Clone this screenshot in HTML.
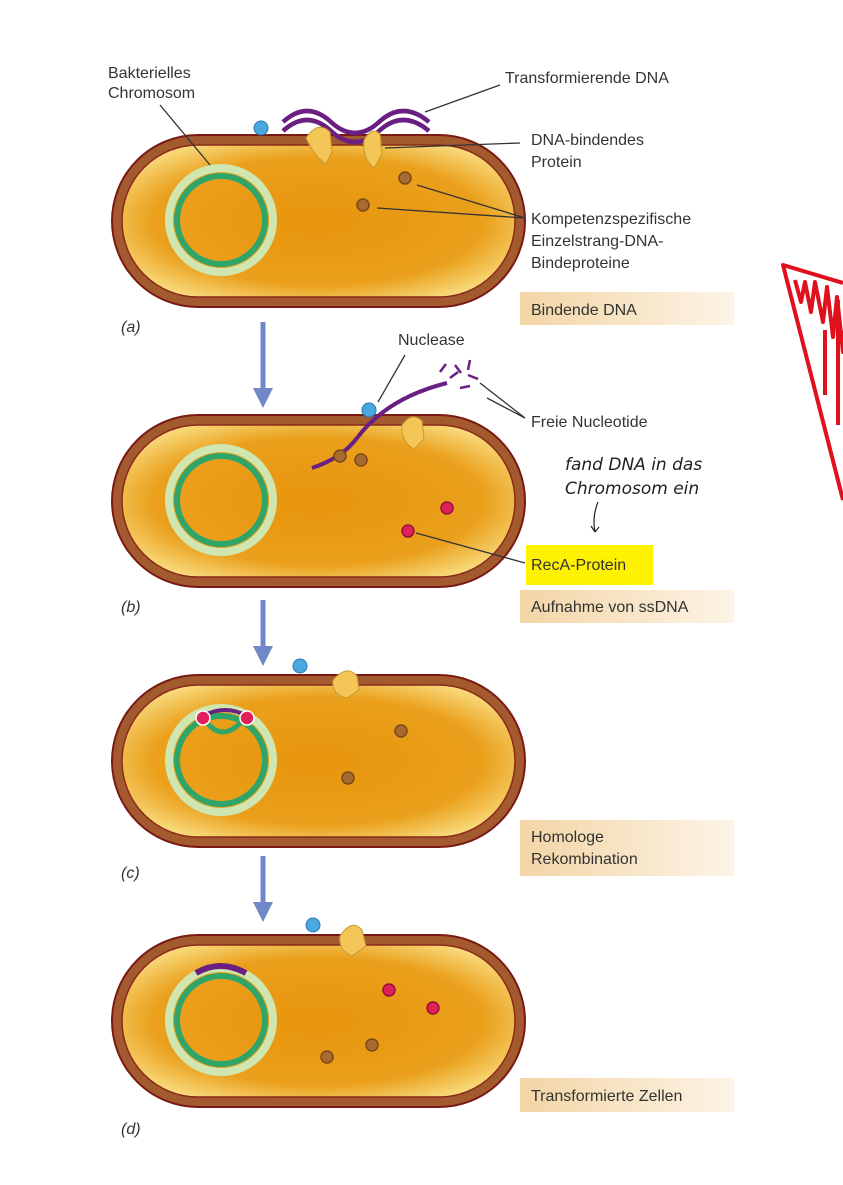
<!DOCTYPE html>
<html><head><meta charset="utf-8"><style>
html,body{margin:0;padding:0;background:#fff;}
svg{display:block;font-family:"Liberation Sans",sans-serif;}
</style></head><body>
<svg width="843" height="1185" viewBox="0 0 843 1185" xmlns="http://www.w3.org/2000/svg">
<defs>
<radialGradient id="cyto" cx="0.5" cy="0.5" r="0.6">
<stop offset="0" stop-color="#e8940c"/><stop offset="0.7" stop-color="#eaa01c"/><stop offset="1" stop-color="#f9dc80"/>
</radialGradient>
<linearGradient id="tan" x1="0" x2="1"><stop offset="0" stop-color="#f3d5a6"/><stop offset="1" stop-color="#fdf4e6"/></linearGradient>
<marker id="ah" markerWidth="4" markerHeight="4" refX="2" refY="2" orient="auto"><path d="M0,0 L4,2 L0,4z" fill="#7188c8"/></marker>
</defs>
<g id="cells"></g>

<g>
<circle cx="261" cy="128" r="7" fill="#4aa8e0" stroke="#2a78b0"/>
<path d="M283,122 q24,-22 48,0 t48,0 q24,-22 50,0" fill="none" stroke="#6a1f82" stroke-width="4.5"/>
<path d="M283,131 q24,-22 48,0 t48,0 q24,-22 50,0" fill="none" stroke="#6a1f82" stroke-width="4.5"/>
<path d="M306,138 q12,-18 24,-6 l2,20 l-6,12 q-12,-8 -20,-26z" fill="#f4c658" stroke="#c89830"/>
<path d="M364,140 q8,-14 16,-6 l2,20 l-8,14 q-12,-10 -10,-28z" fill="#f4c658" stroke="#c89830"/>
<circle cx="405" cy="178" r="6" fill="#a86a30" stroke="#7a4818" stroke-width="1.5"/>
<circle cx="363" cy="205" r="6" fill="#a86a30" stroke="#7a4818" stroke-width="1.5"/>
<g stroke="#333" stroke-width="1.3" fill="none">
<line x1="160" y1="105" x2="210" y2="165"/>
<line x1="425" y1="112" x2="500" y2="85"/>
<line x1="385" y1="148" x2="520" y2="143"/>
<line x1="417" y1="185" x2="525" y2="218"/>
<line x1="377" y1="208" x2="525" y2="218"/>
</g>
</g>
<g>
<path d="M312,468 q30,-10 45,-30 q30,-40 90,-55" fill="none" stroke="#6a1f82" stroke-width="4"/>
<path d="M450,378 l8,-6 M460,388 l10,-2 M455,365 l6,8 M468,375 l10,4 M470,360 l-2,10 M440,372 l6,-8" stroke="#6a1f82" stroke-width="2.5"/>
<circle cx="369" cy="410" r="7" fill="#4aa8e0" stroke="#2a78b0"/>
<path d="M402,425 q10,-14 20,-4 l2,18 l-10,10 q-14,-8 -12,-24z" fill="#f4c658" stroke="#c89830"/>
<circle cx="340" cy="456" r="6" fill="#a86a30" stroke="#7a4818" stroke-width="1.5"/>
<circle cx="361" cy="460" r="6" fill="#a86a30" stroke="#7a4818" stroke-width="1.5"/>
<circle cx="447" cy="508" r="6" fill="#e0205a" stroke="#901040" stroke-width="1.5"/>
<circle cx="408" cy="531" r="6" fill="#e0205a" stroke="#901040" stroke-width="1.5"/>
<g stroke="#333" stroke-width="1.3" fill="none">
<line x1="378" y1="402" x2="405" y2="355"/>
<line x1="480" y1="383" x2="525" y2="418"/>
<line x1="487" y1="398" x2="525" y2="418"/>
<line x1="416" y1="533" x2="525" y2="563"/>
</g>
</g>
<g>
<circle cx="300" cy="666" r="7" fill="#4aa8e0" stroke="#2a78b0"/>
<path d="M333,680 q14,-16 24,-4 l2,14 l-12,8 q-16,-4 -14,-18z" fill="#f4c658" stroke="#c89830"/>
<path d="M203,716 q22,-12 44,0" fill="none" stroke="#6a1f82" stroke-width="4"/>
<path d="M205,720 q17,24 38,0" fill="none" stroke="#2fa56a" stroke-width="5"/>
<circle cx="203" cy="718" r="7" fill="#e0205a" stroke="#fff" stroke-width="1.5"/>
<circle cx="247" cy="718" r="7" fill="#e0205a" stroke="#fff" stroke-width="1.5"/>
<circle cx="401" cy="731" r="6" fill="#a86a30" stroke="#7a4818" stroke-width="1.5"/>
<circle cx="348" cy="778" r="6" fill="#a86a30" stroke="#7a4818" stroke-width="1.5"/>
</g>
<g>
<circle cx="313" cy="925" r="7" fill="#4aa8e0" stroke="#2a78b0"/>
<path d="M340,936 q12,-18 22,-6 l4,16 l-14,10 q-14,-6 -12,-20z" fill="#f4c658" stroke="#c89830"/>
<path d="M196,973 q24,-14 50,0" fill="none" stroke="#6a1f82" stroke-width="6"/>
<circle cx="389" cy="990" r="6" fill="#e0205a" stroke="#901040" stroke-width="1.5"/>
<circle cx="433" cy="1008" r="6" fill="#e0205a" stroke="#901040" stroke-width="1.5"/>
<circle cx="327" cy="1057" r="6" fill="#a86a30" stroke="#7a4818" stroke-width="1.5"/>
<circle cx="372" cy="1045" r="6" fill="#a86a30" stroke="#7a4818" stroke-width="1.5"/>
</g>

<g stroke="#7188c8" stroke-width="5" marker-end="url(#ah)">
<line x1="263" y1="322" x2="263" y2="398"/>
<line x1="263" y1="600" x2="263" y2="656"/>
<line x1="263" y1="856" x2="263" y2="912"/>
</g>

<rect x="520" y="292" width="214" height="33" fill="url(#tan)"/>
<rect x="520" y="590" width="214" height="33" fill="url(#tan)"/>
<rect x="520" y="820" width="214" height="56" fill="url(#tan)"/>
<rect x="520" y="1078" width="214" height="34" fill="url(#tan)"/>
<rect x="526" y="545" width="127" height="40" fill="#fff200"/>

<g font-size="16" fill="#333">
<text x="108" y="78">Bakterielles</text>
<text x="108" y="98">Chromosom</text>
<text x="505" y="83">Transformierende DNA</text>
<text x="531" y="145">DNA-bindendes</text>
<text x="531" y="167">Protein</text>
<text x="531" y="224">Kompetenzspezifische</text>
<text x="531" y="246">Einzelstrang-DNA-</text>
<text x="531" y="268">Bindeproteine</text>
<text x="531" y="315">Bindende DNA</text>
<text x="398" y="345">Nuclease</text>
<text x="531" y="427">Freie Nucleotide</text>
<text x="531" y="570">RecA-Protein</text>
<text x="531" y="612">Aufnahme von ssDNA</text>
<text x="531" y="842">Homologe</text>
<text x="531" y="864">Rekombination</text>
<text x="531" y="1101">Transformierte Zellen</text>
<text font-style="italic" x="121" y="332">(a)</text>
<text font-style="italic" x="121" y="612">(b)</text>
<text font-style="italic" x="121" y="878">(c)</text>
<text font-style="italic" x="121" y="1134">(d)</text>
</g>

<g fill="#222" font-family="'DejaVu Sans',sans-serif" font-style="italic" font-size="17">
<text x="565" y="470">fand DNA in das</text>
<text x="565" y="494">Chromosom ein</text>
<path d="M598,502 q-6,15 -3,30 l-4,-6 m4,6 l4,-5" fill="none" stroke="#222" stroke-width="1.2"/>
</g>
<g fill="none" stroke="#e0101c" stroke-width="4" stroke-linejoin="round">
<path d="M843,283 L783,265 L843,500"/>
<path d="M795,280 l6,22 l4,-20 l6,30 l4,-30 l8,40 l4,-35 l6,50 l4,-40 l6,55 l4,-45 l0,60 M825,330 l0,65 M838,300 l0,125"/>
</g>
</svg>
<script>
const cellTops=[135,415,675,935];
const g=document.getElementById('cells');
const NS='http://www.w3.org/2000/svg';
cellTops.forEach((y,i)=>{
  const c=document.createElementNS(NS,'g');
  
  
  c.innerHTML=`<rect x="112" y="${y}" width="413" height="172" rx="86" fill="#a25a2e" stroke="#7a1a14" stroke-width="2"/>
  <rect x="122" y="${y+10}" width="393" height="152" rx="76" fill="url(#cyto)" stroke="#8a2a18" stroke-width="1.5"/>
  <circle cx="221" cy="${y+85}" r="52" fill="none" stroke="#cfe6b0" stroke-width="8"/>
  <circle cx="221" cy="${y+85}" r="44" fill="none" stroke="#2fa56a" stroke-width="6"/>`;
  g.appendChild(c);
});
</script>
</body></html>
